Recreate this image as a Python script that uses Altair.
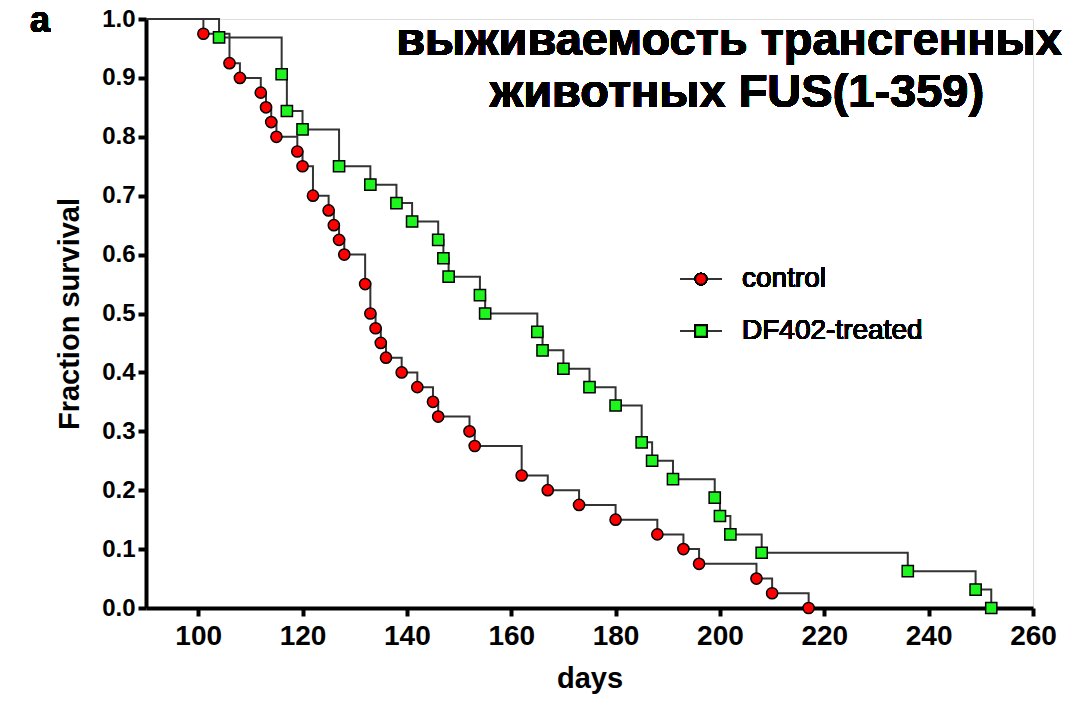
import altair as alt
import pandas as pd

# ---- data ----
control_days = [101, 106, 108, 112, 113, 114, 115, 119, 120, 122, 125, 126, 127, 128,
                132, 133, 134, 135, 136, 139, 142, 145, 146, 152, 153, 162, 167, 173,
                180, 188, 193, 196, 207, 210, 217]
control_surv = [0.975, 0.925, 0.9, 0.875, 0.85, 0.825, 0.8, 0.775, 0.75, 0.7, 0.675, 0.65,
                0.625, 0.6, 0.55, 0.5, 0.475, 0.45, 0.425, 0.4, 0.375, 0.35, 0.325, 0.3,
                0.275, 0.225, 0.2, 0.175, 0.15, 0.125, 0.1, 0.075, 0.05, 0.025, 0.0]

treated_days = [104, 116, 117, 120, 127, 133, 138, 141, 146, 147, 148, 154, 155, 165, 166,
                170, 175, 180, 185, 187, 191, 199, 200, 202, 208, 236, 249, 252]
treated_surv = [0.96875, 0.90625, 0.84375, 0.8125, 0.75, 0.71875, 0.6875, 0.65625, 0.625,
                0.59375, 0.5625, 0.53125, 0.5, 0.46875, 0.4375, 0.40625, 0.375, 0.34375,
                0.28125, 0.25, 0.21875, 0.1875, 0.15625, 0.125, 0.09375, 0.0625, 0.03125, 0.0]

start_day = 90
start_surv = 1.0
x_ticks = [100, 120, 140, 160, 180, 200, 220, 240, 260]
y_ticks = [0.0, 0.1, 0.2, 0.3, 0.4, 0.5, 0.6, 0.7, 0.8, 0.9, 1.0]
series_names = ["control", "DF402-treated"]
title_lines = ["выживаемость трансгенных", "животных FUS(1-359)"]
panel_letter = "a"

FONT = "Liberation Sans"
RED = "#FF0000"
GREEN = "#1EF51E"
LINE = "#333333"

ctrl = pd.DataFrame({"day": control_days, "surv": control_surv, "group": series_names[0]})
trt = pd.DataFrame({"day": treated_days, "surv": treated_surv, "group": series_names[1]})
ctrl_line = pd.concat([pd.DataFrame({"day": [start_day], "surv": [start_surv], "group": series_names[0]}), ctrl])
trt_line = pd.concat([pd.DataFrame({"day": [start_day], "surv": [start_surv], "group": series_names[1]}), trt])

xs = alt.Scale(domain=[90, 260], nice=False, zero=False)
ys = alt.Scale(domain=[0, 1], nice=False)

xax = alt.Axis(values=x_ticks, title="days", grid=False, labelFontSize=28, labelFontWeight="bold",
               labelFont=FONT, titleFont=FONT, titleFontSize=29, titleFontWeight="bold",
               domainWidth=4, domainColor="black", tickWidth=4, tickColor="black", tickSize=8,
               labelPadding=6, titlePadding=14, labelColor="black", titleColor="black",
               labelFlush=False, labelOverlap=False)
yax = alt.Axis(values=y_ticks, format=".1f", title="Fraction survival", grid=False,
               labelFontSize=24, labelFontWeight="bold", labelFont=FONT, titleFont=FONT,
               titleFontSize=29, titleFontWeight="bold", domainWidth=4, domainColor="black",
               tickWidth=4, tickColor="black", tickSize=8, labelPadding=3, titlePadding=17,
               labelColor="black", titleColor="black", labelFlush=False, labelOverlap=False)

def step_line(df):
    return alt.Chart(df).mark_line(interpolate="step-after", color=LINE, strokeWidth=2).encode(
        x=alt.X("day:Q", scale=xs, axis=xax),
        y=alt.Y("surv:Q", scale=ys, axis=yax),
    )

line_c = step_line(ctrl_line)
line_t = step_line(trt_line)

pts_c = alt.Chart(ctrl).mark_point(shape="circle", filled=True, fill=RED, stroke="black",
                                   strokeWidth=1.5, size=125, opacity=1).encode(
    x=alt.X("day:Q", scale=xs), y=alt.Y("surv:Q", scale=ys))
pts_t = alt.Chart(trt).mark_point(shape="square", filled=True, fill=GREEN, stroke="black",
                                  strokeWidth=1.5, size=125, opacity=1).encode(
    x=alt.X("day:Q", scale=xs), y=alt.Y("surv:Q", scale=ys))

# ---- legend (custom) ----
leg_rows = [(series_names[0], 260, "circle", RED), (series_names[1], 312, "square", GREEN)]
legend_layers = []
for name, yy, shp, col in leg_rows:
    legend_layers.append(alt.Chart(ctrl).mark_rule(color=LINE, strokeWidth=2).encode(
        x=alt.value(534), x2=alt.value(576), y=alt.value(yy)))
    legend_layers.append(alt.Chart(ctrl).mark_point(shape=shp, filled=True, fill=col, stroke="black",
                                                    strokeWidth=1.5, size=125, opacity=1).encode(
        x=alt.value(555), y=alt.value(yy)))
    legend_layers.append(alt.Chart(ctrl).mark_text(text=name, align="left", baseline="middle",
                                                   font=FONT, fontSize=28, color="black").encode(
        x=alt.value(596), y=alt.value(yy)))

# ---- title text inside the plot area ----
t1 = alt.Chart(ctrl).mark_text(text=title_lines[0], align="center", baseline="alphabetic",
                               font=FONT, fontSize=47, fontWeight="bold", color="black").encode(
    x=alt.value(583), y=alt.value(36))
t2 = alt.Chart(ctrl).mark_text(text=title_lines[1], align="center", baseline="alphabetic",
                               font=FONT, fontSize=47, fontWeight="bold", color="black").encode(
    x=alt.value(591), y=alt.value(88))
letter = alt.Chart(ctrl).mark_text(text=panel_letter, align="center", baseline="alphabetic",
                                   font=FONT, fontSize=36, fontWeight="bold", color="black").encode(
    x=alt.value(-106), y=alt.value(13))

chart = alt.layer(line_c, line_t, pts_c, pts_t, *legend_layers, t1, t2, letter).properties(
    width=887, height=589,
    autosize=alt.AutoSizeParams(type="none"),
    padding={"left": 138, "top": 11, "right": 30, "bottom": 88},
).configure_view(stroke=None).configure(background="white")

chart.save("out.html", embed_options={"renderer": "svg", "actions": False})
